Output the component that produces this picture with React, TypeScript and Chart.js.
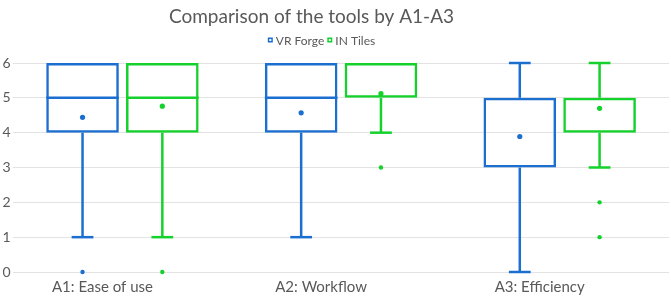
import React, { useEffect, useRef } from "react";
import { Chart, registerables } from "chart.js";

Chart.register(...registerables);

const categories = ["A1: Ease of use", "A2: Workflow", "A3: Efficiency"];
const seriesNames = ["VR Forge", "IN Tiles"];
const chartTitle = "Comparison of the tools by A1-A3";

const vrMin = [1, 1, 0];
const vrQ1 = [4, 4, 3];
const vrMedian = [5, 5, 5];
const vrQ3 = [6, 6, 5];
const vrMax = [6, 6, 6];
const vrMean = [4.44, 4.57, 3.89];
const vrOutliers = [[0], [], []];

const inMin = [1, 4, 3];
const inQ1 = [4, 5, 4];
const inMedian = [5, 5, 5];
const inQ3 = [6, 6, 5];
const inMax = [6, 6, 6];
const inMean = [4.76, 5.12, 4.7];
const inOutliers = [[0], [3], [2, 1]];

const yTicks = [0, 1, 2, 3, 4, 5, 6];

const BLUE = "#1b6fd0";
const GREEN = "#14d12c";
const TEXT = "#595959";
const FONT = "Lato, 'Open Sans', sans-serif";

const stats = [
  { min: vrMin, q1: vrQ1, med: vrMedian, q3: vrQ3, max: vrMax, mean: vrMean, out: vrOutliers, color: BLUE },
  { min: inMin, q1: inQ1, med: inMedian, q3: inQ3, max: inMax, mean: inMean, out: inOutliers, color: GREEN },
];

const boxExtras = {
  id: "boxExtras",
  afterDatasetsDraw(chart: any) {
    const ctx = chart.ctx;
    const y = chart.scales.y;
    stats.forEach((s, d) => {
      const meta = chart.getDatasetMeta(d);
      meta.data.forEach((el: any, i: number) => {
        const { x, width } = el.getProps(["x", "width"], true);
        const half = width / 2;
        const cap = width * 0.15;
        ctx.save();
        ctx.strokeStyle = s.color;
        ctx.fillStyle = s.color;
        ctx.lineWidth = 2.5;
        ctx.lineCap = "butt";
        // median (only when inside the box)
        if (s.med[i] !== s.q1[i] && s.med[i] !== s.q3[i]) {
          ctx.beginPath();
          ctx.moveTo(x - half, y.getPixelForValue(s.med[i]));
          ctx.lineTo(x + half, y.getPixelForValue(s.med[i]));
          ctx.stroke();
        }
        // whiskers
        const seg = (a: number, b: number) => {
          if (a === b) return;
          ctx.beginPath();
          ctx.moveTo(x, y.getPixelForValue(a));
          ctx.lineTo(x, y.getPixelForValue(b));
          ctx.stroke();
          ctx.beginPath();
          ctx.moveTo(x - cap, y.getPixelForValue(b));
          ctx.lineTo(x + cap, y.getPixelForValue(b));
          ctx.stroke();
        };
        seg(s.q3[i], s.max[i]);
        seg(s.q1[i], s.min[i]);
        // mean
        ctx.beginPath();
        ctx.arc(x, y.getPixelForValue(s.mean[i]), 2.6, 0, Math.PI * 2);
        ctx.fill();
        // outliers
        s.out[i].forEach((v: number) => {
          ctx.beginPath();
          ctx.arc(x, y.getPixelForValue(v), 2.2, 0, Math.PI * 2);
          ctx.fill();
        });
        ctx.restore();
      });
    });
  },
};

const titleLegend = {
  id: "titleLegend",
  afterDraw(chart: any) {
    const ctx = chart.ctx;
    const cx = chart.width / 2;
    ctx.save();
    ctx.fillStyle = TEXT;
    ctx.textBaseline = "middle";
    ctx.textAlign = "center";
    ctx.font = `19px ${FONT}`;
    ctx.fillText(chartTitle, cx - 24, 17);
    // legend
    ctx.font = `12px ${FONT}`;
    ctx.textAlign = "left";
    const sq = 5;
    const gap = 3;
    const colors = [BLUE, GREEN];
    let total = 0;
    seriesNames.forEach((n, k) => {
      total += sq + gap + ctx.measureText(n).width + (k < seriesNames.length - 1 ? gap : 0);
    });
    let xx = cx - 14 - total / 2;
    const ly = 40;
    seriesNames.forEach((n, k) => {
      ctx.fillStyle = colors[k];
      ctx.fillRect(xx, ly - sq / 2, sq, sq);
      ctx.fillStyle = "#ffffff";
      ctx.fillRect(xx + 1.5, ly - sq / 2 + 1.5, sq - 3, sq - 3);
      xx += sq + gap;
      ctx.fillStyle = TEXT;
      ctx.fillText(n, xx, ly + 1);
      xx += ctx.measureText(n).width + gap;
    });
    ctx.restore();
  },
};

export default function App() {
  const ref = useRef<HTMLCanvasElement | null>(null);
  useEffect(() => {
    if (!ref.current) return;
    const chart = new Chart(ref.current, {
      type: "bar",
      data: {
        labels: categories,
        datasets: stats.map((s, d) => ({
          label: seriesNames[d],
          data: s.q1.map((q, i) => [q, s.q3[i]]),
          backgroundColor: "rgba(255,255,255,0)",
          borderColor: s.color,
          borderWidth: 2.5,
          borderSkipped: false,
          categoryPercentage: 0.73,
          barPercentage: 0.91,
        })) as any,
      },
      options: {
        animation: false,
        responsive: true,
        maintainAspectRatio: false,
        layout: { padding: { top: 63, right: 2, bottom: -3, left: 0 } },
        plugins: {
          legend: { display: false },
          title: { display: false },
          tooltip: { enabled: false },
        },
        scales: {
          x: {
            grid: { display: false, drawTicks: false },
            border: { display: false },
            ticks: {
              color: TEXT,
              font: { family: FONT, size: 15 },
              padding: 6,
              labelOffset: -20,
            },
          },
          y: {
            min: 0,
            max: 6,
            afterBuildTicks: (axis: any) => {
              axis.ticks = yTicks.map((v) => ({ value: v }));
            },
            grid: { color: "#e3e3e3", lineWidth: 1, drawTicks: false },
            border: { display: false },
            ticks: {
              color: TEXT,
              font: { family: FONT, size: 14 },
              padding: 2.5,
            },
          },
        },
      },
      plugins: [boxExtras, titleLegend],
    });
    return () => chart.destroy();
  }, []);
  return (
    <div style={{ position: "fixed", left: 0, top: 0, width: 671, height: 299, background: "#fff" }}>
      <canvas ref={ref} />
    </div>
  );
}
